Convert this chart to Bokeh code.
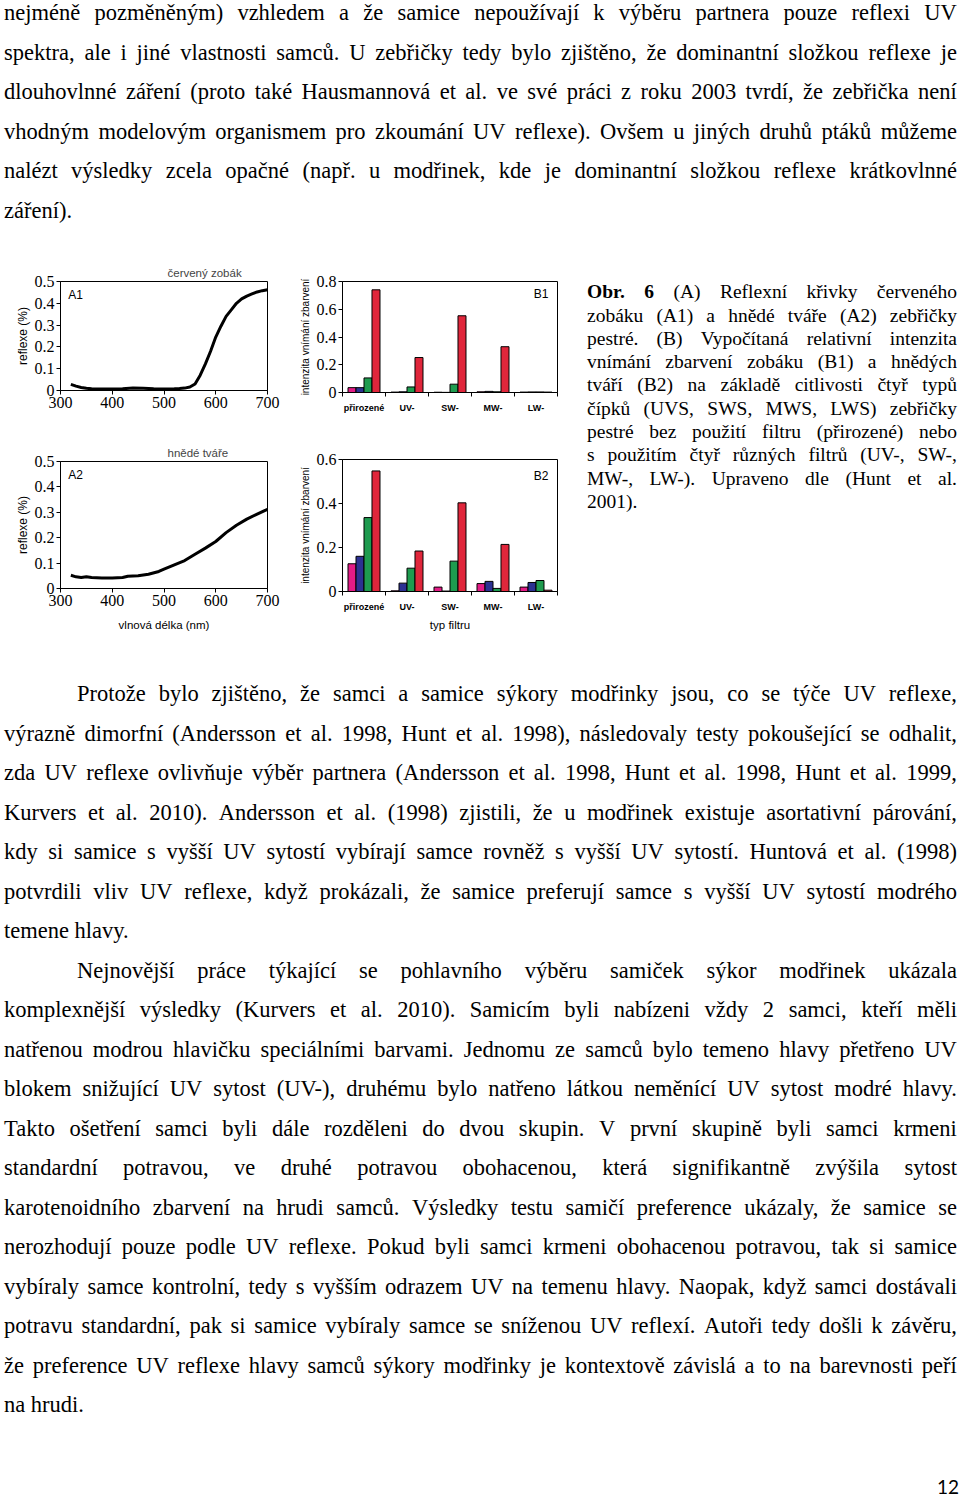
from bokeh.plotting import figure
from bokeh.models import Div, Label, FixedTicker, Range1d, ColumnDataSource
from bokeh.layouts import column, row
from bokeh.embed import file_html
from bokeh.resources import INLINE

# ---------------- data ----------------
wl_a1 = [320, 330, 340, 350, 360, 380, 400, 420, 440, 460, 480, 500, 520, 530, 540,
         550, 560, 570, 580, 590, 600, 610, 620, 630, 640, 650, 660, 670, 680, 690, 700]
refl_a1 = [0.028, 0.020, 0.014, 0.010, 0.008, 0.007, 0.007, 0.008, 0.011, 0.010, 0.008,
           0.007, 0.008, 0.009, 0.011, 0.016, 0.030, 0.070, 0.122, 0.180, 0.245, 0.295,
           0.340, 0.370, 0.400, 0.420, 0.433, 0.443, 0.452, 0.458, 0.462]

wl_a2 = [320, 330, 340, 350, 360, 380, 400, 420, 430, 450, 470, 490, 500, 520, 540,
         560, 580, 600, 620, 640, 660, 680, 700]
refl_a2 = [0.052, 0.046, 0.043, 0.046, 0.043, 0.041, 0.041, 0.043, 0.048, 0.050, 0.056,
           0.067, 0.076, 0.093, 0.110, 0.135, 0.159, 0.185, 0.220, 0.249, 0.273, 0.293, 0.312]

filters = ["přirozené", "UV-", "SW-", "MW-", "LW-"]
cones = ["UVS", "SWS", "MWS", "LWS"]

b1_uvs = [0.035, 0.003, 0.002, 0.005, 0.003]
b1_sws = [0.035, 0.005, 0.001, 0.008, 0.004]
b1_mws = [0.105, 0.040, 0.060, 0.005, 0.004]
b1_lws = [0.740, 0.252, 0.553, 0.330, 0.003]

b2_uvs = [0.126, 0.003, 0.020, 0.036, 0.020]
b2_sws = [0.160, 0.038, 0.002, 0.046, 0.041]
b2_mws = [0.336, 0.106, 0.138, 0.014, 0.050]
b2_lws = [0.548, 0.184, 0.403, 0.214, 0.006]

a_yticks = [0, 0.1, 0.2, 0.3, 0.4, 0.5]
a_xticks = [300, 400, 500, 600, 700]
b1_yticks = [0, 0.2, 0.4, 0.6, 0.8]
b2_yticks = [0, 0.2, 0.4, 0.6]

cone_colors = ["#e31c86", "#2c3192", "#1e9b4f", "#e0263b"]

SANS = "Liberation Sans"
SERIF = "Liberation Serif"


def style_axes(p):
    p.xgrid.visible = False
    p.ygrid.visible = False
    p.outline_line_color = "black"
    p.outline_line_width = 1
    p.background_fill_color = "white"
    p.border_fill_color = "white"
    for ax in (p.xaxis[0], p.yaxis[0]):
        ax.axis_line_color = "black"
        ax.axis_line_width = 1
        ax.major_tick_line_color = "black"
        ax.major_tick_in = 0
        ax.major_tick_out = 4
        ax.minor_tick_line_color = None
        ax.major_label_text_font = SERIF
        ax.major_label_text_font_size = "16px"
        ax.major_label_text_color = "black"
        ax.axis_label_text_font = SANS
        ax.axis_label_text_font_style = "normal"
        ax.axis_label_text_color = "black"
    p.yaxis[0].major_label_standoff = 2
    p.xaxis[0].major_label_standoff = 2


def curve_fig(wl, refl, height, btop, bbot, title, tag, tag_y, xlabel=None):
    p = figure(width=290, height=height, x_range=Range1d(300, 700), y_range=Range1d(0, 0.5),
               output_backend="svg", toolbar_location=None, title=title,
               min_border_left=60, min_border_right=23, min_border_top=btop,
               min_border_bottom=bbot)
    style_axes(p)
    p.title.align = "left"
    p.title.offset = 107
    p.title.text_font = SANS
    p.title.text_font_size = "11.5px"
    p.title.text_font_style = "normal"
    p.title.standoff = 5
    p.yaxis[0].ticker = FixedTicker(ticks=a_yticks)
    p.yaxis[0].major_label_overrides = {0: "0"}
    p.xaxis[0].ticker = FixedTicker(ticks=a_xticks)
    p.yaxis[0].axis_label = "reflexe (%)"
    p.yaxis[0].axis_label_text_font_size = "12px"
    p.yaxis[0].axis_label_standoff = 2
    if xlabel:
        p.xaxis[0].axis_label = xlabel
        p.xaxis[0].axis_label_text_font_size = "11.5px"
        p.xaxis[0].axis_label_standoff = 10
    src = ColumnDataSource(dict(x=wl, y=refl))
    p.line("x", "y", source=src, line_width=3, line_color="black")
    p.add_layout(Label(x=315, y=tag_y, text=tag, text_font=SANS, text_font_size="12px",
                       text_baseline="middle", text_color="black"))
    return p


def bar_fig(series, ymax, yticks, height, btop, bbot, tag, tag_y, xlabel=None):
    p = figure(width=280, height=height, x_range=Range1d(0, 5), y_range=Range1d(0, ymax),
               output_backend="svg", toolbar_location=None,
               min_border_left=52, min_border_right=13, min_border_top=btop,
               min_border_bottom=bbot)
    style_axes(p)
    p.yaxis[0].ticker = FixedTicker(ticks=yticks)
    p.yaxis[0].major_label_overrides = {0: "0"}
    p.yaxis[0].axis_label = "intenzita vnímání zbarvení"
    p.yaxis[0].axis_label_text_font_size = "10px"
    p.yaxis[0].axis_label_standoff = 3
    xa = p.xaxis[0]
    xa.ticker = FixedTicker(ticks=[i + 0.5 for i in range(len(filters))],
                            minor_ticks=list(range(len(filters) + 1)))
    xa.major_label_overrides = {i + 0.5: f for i, f in enumerate(filters)}
    xa.major_tick_out = 0
    xa.minor_tick_line_color = "black"
    xa.minor_tick_in = 0
    xa.minor_tick_out = 4
    xa.major_label_text_font = SANS
    xa.major_label_text_font_style = "bold"
    xa.major_label_text_font_size = "9px"
    xa.major_label_standoff = 6
    if xlabel:
        xa.axis_label = xlabel
        xa.axis_label_text_font_size = "11.5px"
        xa.axis_label_standoff = 4
    w = 0.186
    offsets = [-1.5 * w, -0.5 * w, 0.5 * w, 1.5 * w]
    for vals, off, col in zip(series, offsets, cone_colors):
        src = ColumnDataSource(dict(x=[i + 0.5 + off for i in range(len(filters))], top=vals))
        p.vbar(x="x", top="top", width=w, source=src, fill_color=col,
               line_color="black", line_width=1)
    p.add_layout(Label(x=4.79, y=tag_y, text=tag, text_font=SANS, text_font_size="12px",
                       text_baseline="middle", text_align="right", text_color="black"))
    return p


a1 = curve_fig(wl_a1, refl_a1, 158, 19, 30, "červený zobák", "A1", 0.44)
a2 = curve_fig(wl_a2, refl_a2, 220, 41, 52, "hnědé tváře", "A2", 0.445,
               xlabel="vlnová délka (nm)")
b1 = bar_fig([b1_uvs, b1_sws, b1_mws, b1_lws], 0.8, b1_yticks, 158, 19, 28, "B1", 0.713)
b2 = bar_fig([b2_uvs, b2_sws, b2_mws, b2_lws], 0.6, b2_yticks, 220, 39, 49, "B2", 0.527,
             xlabel="typ filtru")

# ---------------- text ----------------
top_lines = [
    "nejméně pozměněným) vzhledem a že samice nepoužívají k výběru partnera pouze reflexi UV",
    "spektra, ale i jiné vlastnosti samců. U zebřičky tedy bylo zjištěno, že dominantní složkou reflexe je",
    "dlouhovlnné záření (proto také Hausmannová et al. ve své práci z roku 2003 tvrdí, že zebřička není",
    "vhodným modelovým organismem pro zkoumání UV reflexe). Ovšem u jiných druhů ptáků můžeme",
    "nalézt výsledky zcela opačné (např. u modřinek, kde je dominantní složkou reflexe krátkovlnné",
    "záření).",
]
top_kind = ["j", "j", "j", "j", "j", "l"]

bottom_lines = [
    "Protože bylo zjištěno, že samci a samice sýkory modřinky jsou, co se týče UV reflexe,",
    "výrazně dimorfní (Andersson et al. 1998, Hunt et al. 1998), následovaly testy pokoušející se odhalit,",
    "zda UV reflexe ovlivňuje výběr partnera (Andersson et al. 1998, Hunt et al. 1998, Hunt et al. 1999,",
    "Kurvers et al. 2010). Andersson et al. (1998) zjistili, že u modřinek existuje asortativní párování,",
    "kdy si samice s vyšší UV sytostí vybírají samce rovněž s vyšší UV sytostí. Huntová et al. (1998)",
    "potvrdili vliv UV reflexe, když prokázali, že samice preferují samce s vyšší UV sytostí modrého",
    "temene hlavy.",
    "Nejnovější práce týkající se pohlavního výběru samiček sýkor modřinek ukázala",
    "komplexnější výsledky (Kurvers et al. 2010). Samicím byli nabízeni vždy 2 samci, kteří měli",
    "natřenou modrou hlavičku speciálními barvami. Jednomu ze samců bylo temeno hlavy přetřeno UV",
    "blokem snižující UV sytost (UV-), druhému bylo natřeno látkou neměnící UV sytost modré hlavy.",
    "Takto ošetření samci byli dále rozděleni do dvou skupin. V první skupině byli samci krmeni",
    "standardní potravou, ve druhé potravou obohacenou, která signifikantně zvýšila sytost",
    "karotenoidního zbarvení na hrudi samců. Výsledky testu samičí preference ukázaly, že samice se",
    "nerozhodují pouze podle UV reflexe. Pokud byli samci krmeni obohacenou potravou, tak si samice",
    "vybíraly samce kontrolní, tedy s vyšším odrazem UV na temenu hlavy. Naopak, když samci dostávali",
    "potravu standardní, pak si samice vybíraly samce se sníženou UV reflexí. Autoři tedy došli k závěru,",
    "že preference UV reflexe hlavy samců sýkory modřinky je kontextově závislá a to na barevnosti peří",
    "na hrudi.",
]
bottom_kind = ["i", "j", "j", "j", "j", "j", "l", "i", "j", "j", "j", "j", "j", "j", "j", "j", "j", "j", "l"]

caption_lines = [
    "<b>Obr.</b> <b>6</b> (A) Reflexní křivky červeného",
    "zobáku (A1) a hnědé tváře (A2) zebřičky",
    "pestré. (B) Vypočítaná relativní intenzita",
    "vnímání zbarvení zobáku (B1) a hnědých",
    "tváří (B2) na základě citlivosti čtyř typů",
    "čípků (UVS, SWS, MWS, LWS) zebřičky",
    "pestré bez použití filtru (přirozené) nebo",
    "s použitím čtyř různých filtrů (UV-, SW-,",
    "MW-, LW-). Upraveno dle (Hunt et al.",
    "2001).",
]
caption_kind = ["j"] * 9 + ["l"]


def lines_html(lines, kinds, indent=73):
    out = []
    for t, k in zip(lines, kinds):
        if k == "l":
            out.append(f'<div style="text-align:left;white-space:nowrap;">{t}</div>')
        else:
            pad = indent if k == "i" else 0
            spans = "".join(f"<span>{w}</span>" for w in t.split(" "))
            out.append('<div style="display:flex;justify-content:space-between;'
                       f'white-space:nowrap;padding-left:{pad}px;">{spans}</div>')
    return "".join(out)


body_style = (f"font-family:'{SERIF}';font-size:22.5px;line-height:39.5px;color:#000;"
              "position:relative;left:4px;width:953px;")

top_div = Div(width=960, height=262, margin=0,
              text=f'<div style="{body_style}top:-6.75px;">{lines_html(top_lines, top_kind)}</div>')

caption_div = Div(width=390, height=378, margin=0,
                  text=(f'<div style="font-family:\'{SERIF}\';font-size:19.5px;line-height:23.3px;'
                        f'color:#000;position:relative;left:17px;top:18.3px;width:370px;">'
                        f'{lines_html(caption_lines, caption_kind)}</div>'))

bottom_div = Div(width=960, height=856, margin=0,
                 text=(f'<div style="{body_style}top:34.25px;">{lines_html(bottom_lines, bottom_kind, 73)}</div>'
                       f'<div style="position:absolute;top:838px;left:937px;font-family:Lato;'
                       f'font-size:19px;line-height:18px;color:#000;">12</div>'))

charts = row(column(a1, a2), column(b1, b2), caption_div)
page = column(top_div, charts, bottom_div)

open("out.html", "w").write(file_html(page, INLINE))
